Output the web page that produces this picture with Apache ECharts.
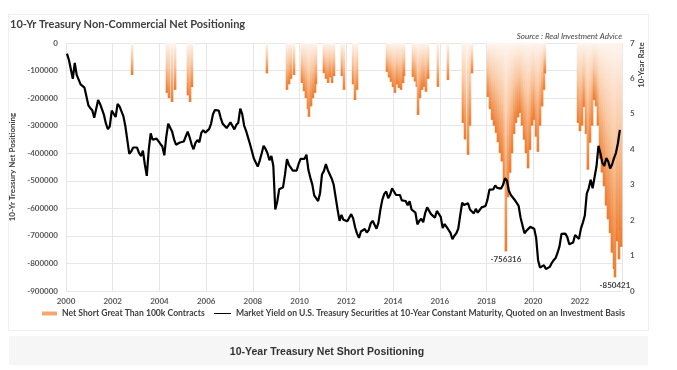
<!DOCTYPE html>
<html><head><meta charset="utf-8">
<script src="https://cdn.jsdelivr.net/npm/echarts@6/dist/echarts.min.js"></script>
<style>html,body{margin:0;padding:0;background:#fff}#c{width:677px;height:370px}</style>
</head><body><div id="c"></div>
<script>
// ---- Data ----
const yieldStartYear = 2000;
const yields2000s = [
 6.70,6.52,6.26,5.99,6.44,6.10,6.05,5.83,5.80,5.74,5.72,5.24,
 5.16,5.10,4.89,5.14,5.39,5.28,5.24,4.97,4.73,4.57,4.65,5.09,
 5.04,4.91,5.28,5.21,5.16,4.93,4.65,4.26,3.87,3.94,4.05,4.03,
 4.05,3.90,3.81,3.96,3.57,3.25,3.98,4.45,4.27,4.29,4.30,4.27,
 4.15,4.08,3.83,4.35,4.72,4.73,4.50,4.28,4.13,4.10,4.19,4.23,
 4.22,4.17,4.50,4.34,4.14,4.00,4.18,4.26,4.20,4.46,4.54,4.47,
 4.42,4.57,4.72,4.99,5.11,5.13,5.09,4.88,4.72,4.73,4.60,4.56,
 4.76,4.72,4.56,4.69,4.75,5.15,5.00,4.67,4.52,4.53,4.15,4.10,
 3.74,3.74,3.51,3.68,3.88,4.10,4.01,3.89,3.69,3.81,3.53,2.30,
 2.52,2.87,2.82,2.93,3.29,3.72,3.56,3.59,3.40,3.39,3.40,3.59
];
const yields2010s = [
 3.73,3.69,3.73,3.85,3.42,3.20,3.01,2.70,2.65,2.54,2.76,3.29,
 3.39,3.58,3.41,3.46,3.17,3.00,3.00,2.30,1.98,2.15,2.01,1.98,
 1.97,1.97,2.17,2.05,1.80,1.62,1.50,1.68,1.72,1.75,1.65,1.72,
 1.91,1.98,1.96,1.76,1.93,2.30,2.58,2.74,2.81,2.62,2.72,2.90,
 2.86,2.71,2.72,2.71,2.56,2.60,2.54,2.42,2.53,2.30,2.33,2.21,
 1.88,1.98,2.04,1.94,2.20,2.36,2.32,2.17,2.17,2.07,2.26,2.24,
 2.09,1.78,1.89,1.81,1.81,1.64,1.46,1.56,1.63,1.76,2.14,2.49,
 2.43,2.42,2.48,2.30,2.30,2.19,2.32,2.21,2.20,2.36,2.35,2.40,
 2.58,2.86,2.84,2.87,2.98,2.91,2.89,2.89,3.00,3.18,3.12,2.83,
 2.71,2.68,2.57,2.53,2.40,2.07,2.06,1.63,1.70,1.71,1.81,1.86
];
const yields2020s = [
 1.76,1.50,0.87,0.66,0.67,0.73,0.62,0.65,0.68,0.79,0.87,0.93,
 1.08,1.26,1.61,1.64,1.62,1.52,1.32,1.28,1.37,1.58,1.56,1.47,
 1.76,1.93,2.13,2.75,2.90,3.14,2.90,2.90,3.52,4.10,3.89,3.62,
 3.53,3.75,3.66,3.46,3.57,3.75,3.90,4.17,4.55
];
// Weeks with net short positions greater than 100k contracts (decimal year, contracts)
const shortDates = [
 2002.83,
 2004.32,2004.41,2004.54,2004.67,
 2005.22,2005.31,2005.39,
 2008.60,
 2009.46,2009.55,2009.63,2009.76,
 2010.10,2010.19,2010.27,2010.36,2010.40,2010.49,2010.57,2010.66,2010.70,
 2011.04,2011.13,2011.22,2011.30,2011.39,2011.47,
 2011.81,2011.90,
 2012.29,2012.37,2012.46,
 2013.74,2013.83,2013.91,2014.00,2014.08,2014.17,2014.25,2014.34,2014.43,2014.47,
 2014.85,2014.94,2015.02,2015.07,2015.15,2015.24,2015.32,2015.41,2015.50,
 2015.92,2016.35,
 2016.99,2017.08,2017.21,2017.29,2017.38,
 2018.06,2018.15,2018.24,2018.32,2018.41,2018.49,2018.58,2018.66,2018.75,2018.83,2018.92,
 2019.01,2019.09,2019.18,2019.26,2019.35,2019.43,2019.52,2019.61,2019.69,2019.78,2019.86,2019.95,
 2020.03,2020.12,2020.20,2020.29,2020.38,2020.46,2020.50,
 2021.92,2022.00,2022.09,2022.17,2022.26,2022.34,2022.43,2022.52,2022.60,2022.69,2022.77,2022.86,2022.94,
 2023.03,2023.12,2023.20,2023.29,2023.37,2023.46,2023.50,2023.59,2023.67,2023.72,2023.76
];
const shortValues = [
 -116000,
 -181000,-200000,-214000,-170000,
 -190000,-214000,-160000,
 -110000,
 -170000,-150000,-130000,-116000,
 -145000,-175000,-200000,-240000,-268000,-230000,-200000,-181000,-150000,
 -109000,-130000,-145000,-125000,-145000,-120000,
 -120000,-170000,
 -150000,-207000,-170000,
 -105000,-125000,-141000,-160000,-181000,-150000,-163000,-170000,-145000,-120000,
 -123000,-140000,-160000,-261000,-200000,-170000,-159000,-177000,-130000,
 -159000,-134000,
 -290000,-350000,-406000,-300000,-110000,
 -196000,-240000,-279000,-300000,-326000,-360000,-399000,-430000,-510000,-756316,-560000,
 -471000,-400000,-330000,-290000,-270000,-254000,-300000,-351000,-400000,-455000,-388000,-300000,
 -279000,-340000,-395000,-300000,-230000,-170000,-110000,
 -290000,-320000,-300000,-232000,-330000,-460000,-362000,-300000,-207000,-230000,-300000,-420000,-470000,
 -520000,-590000,-640000,-690000,-761000,-820000,-850421,-720000,-785000,-680000,-740000
];
const labelledShorts = [-756316, -850421];
const xMin = 2000, xMax = 2023.8;

// ---- Build ----
const allYields = yields2000s.concat(yields2010s, yields2020s);
const lineData = allYields.map((v, i) => [yieldStartYear + (i + 0.5) / 12, v]);
const barData = shortDates.map((d, i) => [d, shortValues[i]]);
const markData = labelledShorts.map(v => {
  const i = shortValues.indexOf(v);
  return { coord: [shortDates[i], v], value: v };
});
const F = 'Lato, "Liberation Sans", sans-serif';
const barName = 'Net Short Great Than 100k Contracts';
const lineName = 'Market Yield on U.S. Treasury Securities at 10-Year Constant Maturity, Quoted on an Investment Basis';
const legendText = { fontSize: 8.6, color: '#404040', fontFamily: F, fontWeight: 'bold' };

const chart = echarts.init(document.getElementById('c'), null, { renderer: 'canvas' });
chart.setOption({
  backgroundColor: '#ffffff',
  animation: false,
  textStyle: { fontFamily: F },
  graphic: [
    { type: 'rect', shape: { x: 8.5, y: 14.5, width: 640, height: 316 }, style: { fill: 'none', stroke: '#f0f0f0', lineWidth: 1 }, z: -10 },
    { type: 'rect', shape: { x: 9, y: 336, width: 639, height: 29 }, style: { fill: '#f6f6f6' }, z: -10 },
    { type: 'text', x: 327, y: 352, style: { text: '10-Year Treasury Net Short Positioning', fill: '#333333', font: 'bold 10.5px "Liberation Sans", Arial, sans-serif', align: 'center', verticalAlign: 'middle' } },
    { type: 'text', x: 10, y: 24, style: { text: '10-Yr Treasury Non-Commercial Net Positioning', fill: '#404040', font: 'bold 11px ' + F, align: 'left', verticalAlign: 'middle' } },
    { type: 'text', x: 622, y: 36, style: { text: 'Source : Real Investment Advice', fill: '#404040', font: 'italic 8px ' + F, align: 'right', verticalAlign: 'middle' } },
    { type: 'text', x: 641, y: 65, rotation: Math.PI / 2, style: { text: '10-Year Rate', fill: '#404040', font: 'bold 8px ' + F, align: 'center', verticalAlign: 'middle' } }
  ],
  legend: [
    {
      left: 42, top: 309, padding: 0, itemWidth: 15, itemHeight: 4, textStyle: legendText,
      data: [{ name: barName, icon: 'rect', itemStyle: { color: '#f4a870' } }]
    },
    {
      left: 214, top: 309, padding: 0, itemWidth: 17, itemHeight: 1, textStyle: legendText,
      data: [{ name: lineName, icon: 'rect', itemStyle: { color: '#000000' } }]
    }
  ],
  grid: { left: 66, right: 55, top: 43, bottom: 79 },
  xAxis: {
    type: 'value', min: xMin, max: xMax, interval: 2,
    axisLine: { show: false }, axisTick: { show: false },
    splitLine: { show: true, lineStyle: { color: '#e6e6e6', width: 1 } },
    axisLabel: { fontSize: 8, color: '#595959', margin: 6, fontWeight: 'bold', showMaxLabel: false,
      formatter: v => (v % 2 === 0 ? String(v) : '') }
  },
  yAxis: [
    {
      type: 'value', min: -900000, max: 0, interval: 100000,
      name: '10-Yr Treasury Net Positioning', nameLocation: 'middle', nameGap: 50,
      nameTextStyle: { fontSize: 8, fontWeight: 'bold', color: '#404040' },
      axisLine: { show: false }, axisTick: { show: false },
      splitLine: { lineStyle: { color: '#e6e6e6', width: 1 } },
      axisLabel: { fontSize: 8, color: '#595959', margin: 8, fontWeight: 'bold', formatter: v => String(v) }
    },
    {
      type: 'value', min: 0, max: 7, interval: 1, position: 'right',
      axisLine: { show: false }, axisTick: { show: false }, splitLine: { show: false },
      axisLabel: { fontSize: 8, color: '#595959', margin: 8, fontWeight: 'bold' }
    }
  ],
  series: [
    {
      name: barName, type: 'bar', yAxisIndex: 0, barWidth: 2.6, data: barData, z: 2,
      itemStyle: { color: { type: 'linear', x: 0, y: 0, x2: 0, y2: 1, colorStops: [
        { offset: 0, color: '#fef5ef' }, { offset: 0.45, color: '#f9c8a2' }, { offset: 1, color: '#ee7a2c' } ] } },
      markPoint: {
        symbol: 'rect', symbolSize: 0, data: markData,
        label: { show: true, position: 'bottom', distance: 4, fontSize: 8, color: '#404040', fontWeight: 'bold',
          formatter: p => String(p.value) }
      }
    },
    {
      name: lineName, type: 'line', yAxisIndex: 1, data: lineData, symbol: 'none', z: 5,
      itemStyle: { color: '#000000' },
      lineStyle: { color: '#000000', width: 2.2 }
    }
  ]
});
</script></body></html>
